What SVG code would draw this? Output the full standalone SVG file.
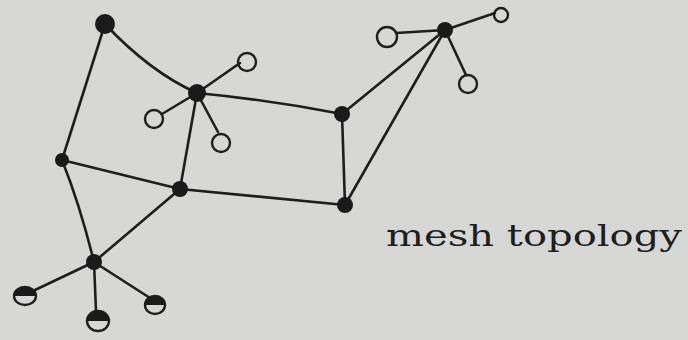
<svg xmlns="http://www.w3.org/2000/svg" width="688" height="340" viewBox="0 0 688 340">
<style>
.e{fill:none;stroke:#1e1e1e;stroke-width:2.6;stroke-linecap:round}
.n{fill:#1a1a1a}
.l{fill:none;stroke:#1e1e1e;stroke-width:2.4}
.t{font-family:"DejaVu Serif","Liberation Serif",serif;font-size:30px;fill:#1e1e1e}
</style>
<rect width="688" height="340" fill="#d7d7d5"/>
<g id="connectors">
<path class="e" d="M105,24 Q150,72 197,93"/>
<path class="e" d="M105,24 L62,160"/>
<path class="e" d="M197,93 Q270,100 342,114"/>
<path class="e" d="M197,93 L180,189"/>
<path class="e" d="M197,93 L240,63"/>
<path class="e" d="M197,93 L162,114"/>
<path class="e" d="M197,93 L218,132"/>
<path class="e" d="M342,114 L445,30"/>
<path class="e" d="M342,114 L345,205"/>
<path class="e" d="M445,30 L345,205"/>
<path class="e" d="M445,30 L396,33"/>
<path class="e" d="M445,30 L495,13"/>
<path class="e" d="M445,30 L466,75"/>
<path class="e" d="M62,160 L180,189"/>
<path class="e" d="M62,160 Q80,205 94,262"/>
<path class="e" d="M180,189 Q270,198 345,205"/>
<path class="e" d="M180,189 L94,262"/>
<path class="e" d="M94,262 L35,290"/>
<path class="e" d="M94,262 L96,311"/>
<path class="e" d="M94,262 L150,298"/>
</g>
<g id="nA"><circle class="n" cx="105" cy="24" r="10"/></g>
<g id="nB"><circle class="n" cx="197" cy="93" r="9"/></g>
<g id="nC"><circle class="n" cx="342" cy="114" r="8"/></g>
<g id="nD"><circle class="n" cx="445" cy="30" r="8"/></g>
<g id="nE"><circle class="n" cx="62" cy="160" r="7"/></g>
<g id="nF"><circle class="n" cx="180" cy="189" r="8"/></g>
<g id="nG"><circle class="n" cx="345" cy="205" r="8"/></g>
<g id="nH"><circle class="n" cx="94" cy="262" r="8"/></g>
<g id="lB1"><circle class="l" cx="247" cy="62" r="9"/></g>
<g id="lB2"><circle class="l" cx="154" cy="119" r="9"/></g>
<g id="lB3"><circle class="l" cx="221" cy="143" r="9"/></g>
<g id="lD1"><circle class="l" cx="387" cy="37" r="10"/></g>
<g id="lD2"><circle class="l" cx="501" cy="15" r="7"/></g>
<g id="lD3"><circle class="l" cx="468" cy="84" r="9"/></g>
<g id="lH1"><ellipse class="l" cx="25" cy="296" rx="11" ry="9"/><path class="n" d="M14,296 A11,9 0 0 1 36,296 Z"/></g>
<g id="lH2"><ellipse class="l" cx="98" cy="321" rx="11" ry="10"/><path class="n" d="M87,321 A11,10 0 0 1 109,321 Z"/></g>
<g id="lH3"><ellipse class="l" cx="155" cy="305" rx="10" ry="9"/><path class="n" d="M145,305 A10,9 0 0 1 165,305 Z"/></g>
<text class="t" x="386" y="246" textLength="296" lengthAdjust="spacingAndGlyphs">mesh  topology</text>
</svg>
